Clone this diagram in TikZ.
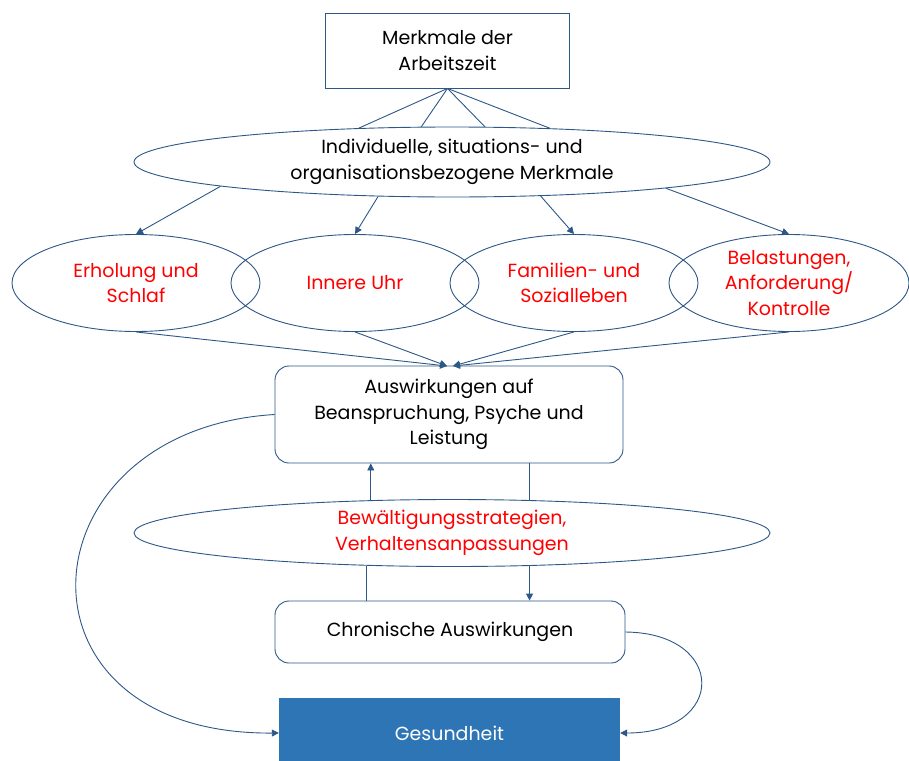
\documentclass[tikz,border=0pt]{standalone}
\usepackage{fontspec}
\setmainfont{Poppins}
\usetikzlibrary{shapes.geometric,arrows.meta}
\definecolor{ln}{HTML}{2C5787}
\definecolor{fillb}{HTML}{2E75B6}
\definecolor{txtred}{HTML}{FF0000}
\begin{document}
\begin{tikzpicture}[x=1pt,y=-1pt,
  lbl/.style={font=\fontsize{19}{25.5}\selectfont, align=center, text=black},
  redtxt/.style={text=txtred},
  ell/.style={ellipse, draw=ln, line width=0.9pt, inner xsep=0pt, inner ysep=-10pt},
  bx/.style={rectangle, draw=ln, line width=0.9pt},
  rbx/.style={rectangle, rounded corners=14pt, draw=ln, line width=0.9pt},
  con/.style={draw=ln, line width=0.9pt},
  arr/.style={con, -{Triangle[length=7pt,width=7pt]}}]
\useasboundingbox (0,0) rectangle (909,760);
\clip (0,0) rectangle (909,760);

\node[bx, minimum width=244pt, minimum height=75pt, lbl] (top) at (447.5,50.5) {Merkmale der\\Arbeitszeit};
\node[ell, minimum width=636pt, minimum height=70pt, lbl] (ind) at (452,162) {Individuelle, situations- und\\organisationsbezogene Merkmale};

\node[ell, minimum width=248pt, minimum height=97pt, lbl, redtxt] (e1) at (136,283) {Erholung und\\Schlaf};
\node[ell, minimum width=248pt, minimum height=97pt, lbl, redtxt] (e2) at (355,283) {Innere Uhr};
\node[ell, minimum width=248pt, minimum height=97pt, lbl, redtxt] (e3) at (574,283) {Familien- und\\Sozialleben};
\node[ell, minimum width=240pt, minimum height=97pt, lbl, redtxt] (e4) at (789,283) {Belastungen,\\Anforderung/\\Kontrolle};

\node[rbx, minimum width=348pt, minimum height=97pt, lbl] (aus) at (449,414.5) {Auswirkungen auf\\Beanspruchung, Psyche und\\Leistung};
\node[ell, minimum width=636pt, minimum height=67pt, lbl, redtxt] (bew) at (452,533) {Bewältigungsstrategien,\\Verhaltensanpassungen};
\node[rbx, minimum width=350pt, minimum height=62pt, lbl] (chr) at (450,632) {Chronische Auswirkungen};
\node[rectangle, fill=fillb, minimum width=341pt, minimum height=70pt, lbl, text=white] (ges) at (449.5,733) {Gesundheit};

% top fan
\draw[con] (top.south) -- (ind.160.6);
\draw[con] (top.south) -- (ind.131.7);
\draw[con] (top.south) -- (ind.47.4);
\draw[con] (top.south) -- (ind.19.2);

% to row ellipses
\draw[arr] (ind.186.8) -- (e1.north);
\draw[arr] (ind.205.3) -- (e2.north);
\draw[arr] (ind.339.1) -- (e3.north);
\draw[arr] (ind.353.9) -- (e4.north);

% converge to Auswirkungen
\coordinate (tL) at (447,366);
\coordinate (tR) at (453,366);
\draw[arr] (e1.south) -- (tL);
\draw[arr] (e2.south) -- (tL);
\draw[arr] (e3.south) -- (tR);
\draw[arr] (e4.south) -- (tR);

% coping loop
\draw[arr] (bew.158.8) -- (bew.158.8 |- aus.south);
\draw[con] (bew.23 |- aus.south) -- (bew.23);
\draw[con] (bew.201.2) -- (bew.201.2 |- chr.north);
\draw[arr] (bew.337) -- (bew.337 |- chr.north);

% to health
\draw[arr] (aus.west) .. controls (20,430) and (0,735) .. (ges.west);
\draw[arr] (chr.east) .. controls (727,633) and (727,733) .. (ges.east);
\end{tikzpicture}
\end{document}
